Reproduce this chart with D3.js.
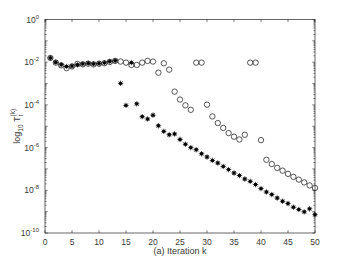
<!DOCTYPE html>
<html><head><meta charset="utf-8">
<script src="https://cdn.jsdelivr.net/npm/d3@7"></script>
<style>body{margin:0;background:#fff}svg{display:block;font-family:"Liberation Sans",Arial,sans-serif}</style>
</head><body>
<script>
const iterations = d3.range(1, 51);
// log10 of the values
const circleLog10 = [-1.8,-2.02,-2.15,-2.28,-2.2,-2.08,-2.1,-2.07,-2.1,-2.07,
  -2.05,-1.99,-1.94,-1.97,-2.02,-2.13,-2.13,-2.02,-1.94,-1.97,
  -2.49,-2.05,-2.35,-3.38,-3.75,-4.02,-4.23,-2.02,-2.02,-3.99,
  -4.54,-4.85,-5.08,-5.32,-5.49,-5.62,-5.4,-2.02,-2.02,-5.65,
  -6.57,-6.77,-6.95,-7.08,-7.23,-7.37,-7.5,-7.63,-7.77,-7.89];
const starLog10 = [-1.8,-2.0,-2.12,-2.2,-2.18,-2.12,-2.08,-2.05,-2.08,-2.06,
  -2.03,-1.97,-1.93,-2.99,-4.02,-2.02,-3.95,-4.55,-4.66,-4.48,
  -4.98,-5.24,-5.4,-5.36,-5.62,-5.84,-6.0,-6.1,-6.29,-6.44,
  -6.6,-6.72,-6.88,-7.03,-7.19,-7.31,-7.47,-7.58,-7.73,-7.92,
  -8.08,-8.2,-8.36,-8.51,-8.62,-8.79,-8.9,-9.01,-8.87,-9.14];
const xTicks = [0,5,10,15,20,25,30,35,40,45,50];
const yTickExps = [0,-2,-4,-6,-8,-10];

const W = 349, H = 262;
const m = {l:45, r:34, t:19.5, b:29};
const svg = d3.select("body").append("svg").attr("width", W).attr("height", H);
const x = d3.scaleLinear().domain([0,50]).range([m.l, W - m.r]);
const y = d3.scaleLog().domain([1e-10, 1]).range([H - m.b, m.t]);
const ax = "#262626", tx = "#3a3a3a";

// minor ticks
const minor = [];
for (let e = -10; e < 0; e++) for (let k = 2; k <= 9; k++) minor.push(k * Math.pow(10, e));
const g = svg.append("g").attr("stroke", ax).attr("stroke-width", 0.6);
minor.forEach(v => {
  g.append("line").attr("x1", x(0)).attr("x2", x(0)+1.5).attr("y1", y(v)).attr("y2", y(v));
  g.append("line").attr("x1", x(50)).attr("x2", x(50)-1.5).attr("y1", y(v)).attr("y2", y(v));
});
for (let e = -10; e <= 0; e++) {
  const v = Math.pow(10, e);
  g.append("line").attr("x1", x(0)).attr("x2", x(0)+2.7).attr("y1", y(v)).attr("y2", y(v));
  g.append("line").attr("x1", x(50)).attr("x2", x(50)-2.7).attr("y1", y(v)).attr("y2", y(v));
}
xTicks.forEach(t => {
  g.append("line").attr("x1", x(t)).attr("x2", x(t)).attr("y1", y(1e-10)).attr("y2", y(1e-10)-2.7);
  g.append("line").attr("x1", x(t)).attr("x2", x(t)).attr("y1", y(1)).attr("y2", y(1)+2.7);
});
svg.append("rect").attr("x", x(0)).attr("y", y(1)).attr("width", x(50)-x(0)).attr("height", y(1e-10)-y(1))
  .attr("fill", "none").attr("stroke", ax).attr("stroke-width", 0.7);

// x tick labels
svg.append("g").selectAll("text").data(xTicks).join("text")
  .attr("x", d => x(d)).attr("y", y(1e-10) + 12).attr("text-anchor", "middle")
  .attr("font-size", 8.5).attr("fill", tx).text(d => d);
// y tick labels
const yl = svg.append("g").selectAll("text").data(yTickExps).join("text")
  .attr("x", x(0) - 6).attr("y", d => y(Math.pow(10, d)) + 3).attr("text-anchor", "end")
  .attr("font-size", 8.5).attr("fill", tx);
yl.append("tspan").text("10");
yl.append("tspan").attr("dy", -4).attr("font-size", 6).text(d => d);
// axis labels
svg.append("text").attr("x", (x(0)+x(50))/2).attr("y", 254).attr("text-anchor", "middle")
  .attr("font-size", 9).attr("fill", tx).text("(a) Iteration k");
const ylab = svg.append("text").attr("transform", "translate(20," + ((y(1)+y(1e-10))/2) + ") rotate(-90)")
  .attr("text-anchor", "middle").attr("font-size", 9).attr("fill", tx);
ylab.append("tspan").text("log");
ylab.append("tspan").attr("dy", 2.5).attr("font-size", 6.5).text("10");
ylab.append("tspan").attr("dy", -2.5).text(" T");
ylab.append("tspan").attr("dy", 2.5).attr("font-size", 6.5).text("r");
ylab.append("tspan").attr("dy", -7.5).attr("dx", -2).attr("font-size", 6.5).text("(k)");

// circles
svg.append("g").selectAll("circle").data(iterations).join("circle")
  .attr("cx", d => x(d)).attr("cy", (d, i) => y(Math.pow(10, circleLog10[i])))
  .attr("r", 2.7).attr("fill", "none").attr("stroke", "#111").attr("stroke-width", 0.7);
// stars
const sg = svg.append("g").selectAll("g").data(iterations).join("g")
  .attr("transform", (d, i) => `translate(${x(d)},${y(Math.pow(10, starLog10[i]))})`);
sg.append("circle").attr("r", 1.7).attr("fill", "#000");
[0, 45, 90, 135].forEach(a => {
  sg.append("line").attr("x1", -2.7).attr("x2", 2.7).attr("y1", 0).attr("y2", 0)
    .attr("transform", `rotate(${a})`).attr("stroke", "#000").attr("stroke-width", 0.7);
});
</script>
</body></html>
